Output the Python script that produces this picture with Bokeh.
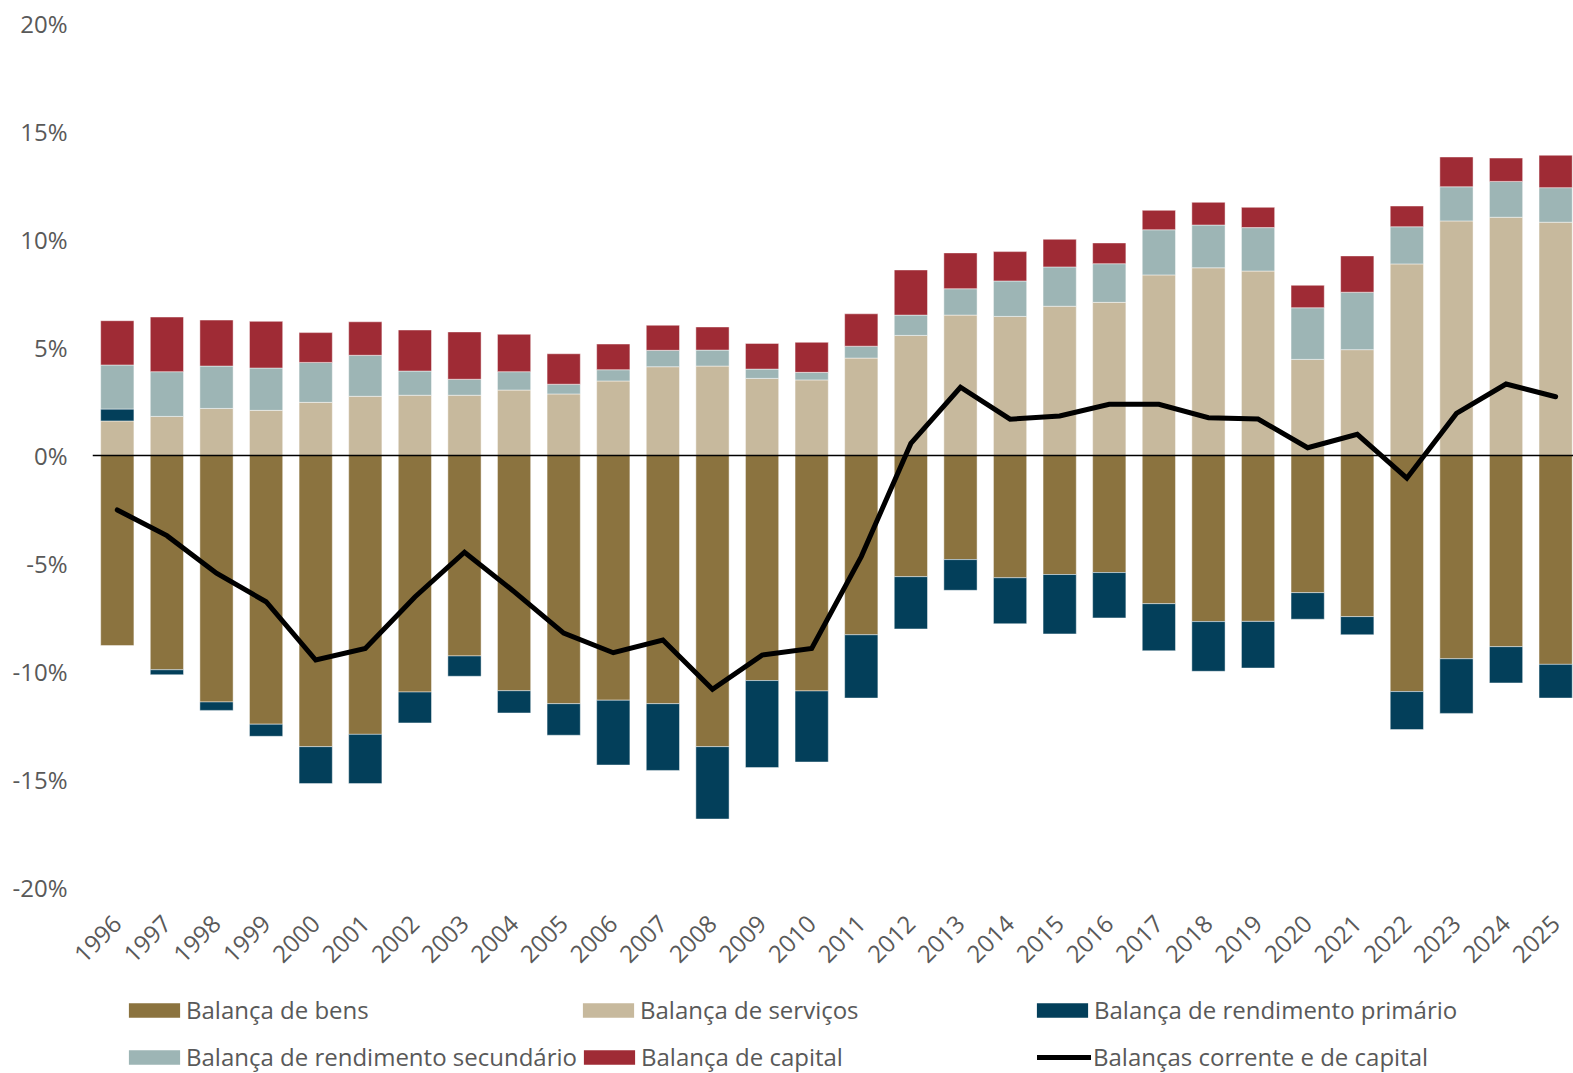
import numpy as np
from bokeh.plotting import figure
from bokeh.layouts import column
from bokeh.models import Range1d, FixedTicker, Span, Legend, LegendItem
from bokeh.embed import file_html
from bokeh.resources import INLINE

years = list(range(1996, 2026))
year_labels = [str(y) for y in years]

bens = [-8.80, -9.92, -11.41, -12.44, -13.48, -12.91, -10.95, -9.28, -10.89, -11.49,
        -11.33, -11.49, -13.48, -10.42, -10.90, -8.30, -5.61, -4.82, -5.66, -5.51,
        -5.42, -6.86, -7.69, -7.68, -6.35, -7.46, -10.93, -9.41, -8.85, -9.67]
servicos = [1.60, 1.81, 2.18, 2.09, 2.46, 2.74, 2.79, 2.79, 3.03, 2.85,
            3.45, 4.11, 4.14, 3.57, 3.50, 4.51, 5.56, 6.50, 6.44, 6.91,
            7.09, 8.36, 8.69, 8.54, 4.45, 4.90, 8.87, 10.86, 11.03, 10.80]
primario = [0.55, -0.23, -0.39, -0.56, -1.71, -2.28, -1.43, -0.94, -1.03, -1.46,
            -3.00, -3.09, -3.35, -4.03, -3.29, -2.93, -2.42, -1.42, -2.13, -2.75,
            -2.10, -2.18, -2.30, -2.16, -1.23, -0.84, -1.76, -2.53, -1.68, -1.56]
secundario = [2.04, 2.07, 1.96, 1.96, 1.85, 1.90, 1.12, 0.74, 0.85, 0.45,
              0.52, 0.76, 0.74, 0.43, 0.35, 0.55, 0.94, 1.22, 1.64, 1.82,
              1.79, 2.09, 1.98, 2.01, 2.39, 2.66, 1.72, 1.58, 1.66, 1.60]
capital = [2.05, 2.53, 2.13, 2.16, 1.38, 1.55, 1.90, 2.19, 1.73, 1.41,
           1.19, 1.16, 1.07, 1.19, 1.39, 1.50, 2.09, 1.66, 1.36, 1.28,
           0.96, 0.90, 1.05, 0.94, 1.04, 1.68, 0.96, 1.38, 1.08, 1.50]
corrente_capital = [-2.52, -3.71, -5.45, -6.77, -9.47, -8.93, -6.55, -4.48, -6.30, -8.22,
                    -9.13, -8.54, -10.82, -9.24, -8.93, -4.68, 0.56, 3.16, 1.68, 1.83,
                    2.37, 2.37, 1.75, 1.69, 0.36, 0.98, -1.05, 1.95, 3.31, 2.72]

y_ticks = [-20, -15, -10, -5, 0, 5, 10, 15, 20]
y_tick_labels = ["-20%", "-15%", "-10%", "-5%", "0%", "5%", "10%", "15%", "20%"]

names = ["Balança de bens", "Balança de serviços", "Balança de rendimento primário",
         "Balança de rendimento secundário", "Balança de capital"]
line_name = "Balanças corrente e de capital"
colors = ["#8B733F", "#C7B99D", "#033F5A", "#9DB5B5", "#9F2B35"]

FONT = "Open Sans"
TXT = "#595959"
FS = "24px"

p = figure(width=1573, height=990, output_backend="svg", toolbar_location=None,
           x_range=Range1d(1995.5, 2025.36), y_range=Range1d(-20, 20),
           min_border_left=92, min_border_right=0, min_border_top=23, min_border_bottom=103)
p.outline_line_color = None
p.xgrid.visible = False
p.ygrid.visible = False

series = [bens, servicos, primario, secundario, capital]
renderers = []
pos_base = np.zeros(len(years))
neg_base = np.zeros(len(years))
for vals, col in zip(series, colors):
    v = np.array(vals, dtype=float)
    pos = np.clip(v, 0, None)
    neg = np.clip(v, None, 0)
    top = np.where(v >= 0, pos_base + pos, neg_base + neg)
    bottom = np.where(v >= 0, pos_base, neg_base)
    pos_base = pos_base + pos
    neg_base = neg_base + neg
    r = p.vbar(x=years, top=top, bottom=bottom, width=0.67, fill_color=col,
               line_color="white", line_width=1, line_alpha=0.45)
    renderers.append(r)

zero = Span(location=0, dimension="width", line_color="black", line_width=1.5)
p.add_layout(zero)

p.line(years, corrente_capital, line_color="black", line_width=5,
       line_join="miter", line_cap="round")

# axes
p.yaxis.ticker = FixedTicker(ticks=y_ticks)
p.yaxis.major_label_overrides = {t: l for t, l in zip(y_ticks, y_tick_labels)}
p.xaxis.ticker = FixedTicker(ticks=years)
p.xaxis.major_label_overrides = {y: l for y, l in zip(years, year_labels)}
p.xaxis.major_label_orientation = np.pi / 4
for ax in (p.xaxis, p.yaxis):
    ax.axis_line_color = None
    ax.major_tick_line_color = None
    ax.minor_tick_line_color = None
    ax.major_tick_out = 0
    ax.major_tick_in = 0
    ax.major_label_text_font = FONT
    ax.major_label_text_font_size = FS
    ax.major_label_text_color = TXT
p.yaxis.major_label_standoff = 25
p.xaxis.major_label_standoff = 32

# legend strip (separate figure so the legend is not clipped);
# its key renderers carry the same series but lie outside this strip's ranges
lg = figure(width=1573, height=83, output_backend="svg", toolbar_location=None,
            x_range=Range1d(0, 1), y_range=Range1d(0, 1),
            x_axis_location=None, y_axis_location=None,
            min_border_left=0, min_border_right=0, min_border_top=0, min_border_bottom=0)
lg.outline_line_color = None
lg.xgrid.visible = False
lg.ygrid.visible = False

leg_r = []
for vals, col in zip(series, colors):
    leg_r.append(lg.vbar(x=years, top=vals, width=0.67, fill_color=col, line_color=None))
leg_line = lg.line(years, corrente_capital, line_color="black", line_width=5, line_cap="round")

def make_legend(items, loc, gw=64, standoff=0):
    return Legend(items=items, orientation="horizontal", location=loc,
                  label_text_font=FONT, label_text_font_size=FS, label_text_color=TXT,
                  glyph_width=gw, glyph_height=18, label_standoff=standoff,
                  label_width=390, spacing=0, padding=0, margin=0,
                  border_line_color=None, background_fill_alpha=0)

leg1 = make_legend([LegendItem(label=names[0], renderers=[leg_r[0]]),
                    LegendItem(label=names[1], renderers=[leg_r[1]]),
                    LegendItem(label=names[2], renderers=[leg_r[2]])], (30, 47))
leg2 = make_legend([LegendItem(label=names[3], renderers=[leg_r[3]]),
                    LegendItem(label=names[4], renderers=[leg_r[4]])], (30, 0))
leg3 = make_legend([LegendItem(label=line_name, renderers=[leg_line])], (945, 0),
                   gw=54, standoff=2)
lg.add_layout(leg1)
lg.add_layout(leg2)
lg.add_layout(leg3)

layout = column(p, lg, spacing=0)
open("out.html", "w").write(file_html(layout, INLINE))
